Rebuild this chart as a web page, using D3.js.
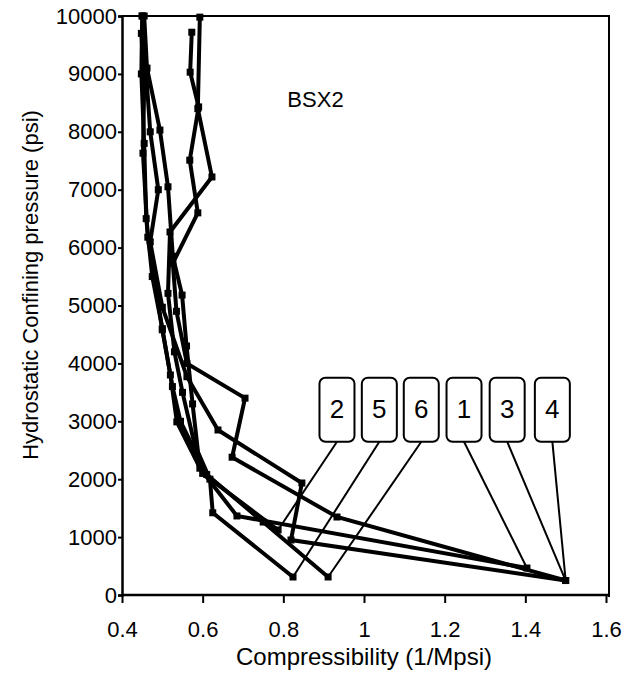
<!DOCTYPE html>
<html>
<head>
<meta charset="utf-8">
<script src="https://cdn.jsdelivr.net/npm/d3@7"></script>
<style>
  body { margin: 0; background: #fff; }
  text { font-family: "Liberation Sans", Arial, sans-serif; fill: #000; }
</style>
</head>
<body>
<div id="chart"></div>
<script>
// compressibility (1/Mpsi), pressure (psi) pairs per test
const curve1 = [[0.455, 10000], [0.462, 9100], [0.494, 8030], [0.514, 7050], [0.526, 5850], [0.549, 5180], [0.56, 4300], [0.575, 3300], [0.593, 2190], [0.685, 1365], [1.404, 466]];
const curve2 = [[0.448, 9700], [0.455, 8800], [0.452, 7630], [0.464, 6180], [0.48, 5500], [0.50, 4580], [0.52, 3800], [0.536, 2990], [0.60, 2100], [0.787, 1123]];
const curve3 = [[0.45, 10000], [0.46, 9000], [0.47, 8000], [0.49, 7000], [0.47, 6100], [0.50, 4970], [0.561, 3770], [0.638, 2850], [0.846, 1934], [0.819, 950], [1.5, 250]];
const curve4 = [[0.573, 9720], [0.569, 9030], [0.59, 8430], [0.568, 7510], [0.588, 6600], [0.526, 5730], [0.535, 4900], [0.561, 4000], [0.705, 3400], [0.673, 2380], [0.933, 1347], [1.5, 250]];
const curve5 = [[0.593, 9980], [0.588, 8400], [0.623, 7220], [0.519, 6270], [0.514, 5210], [0.53, 4200], [0.55, 3500], [0.58, 2600], [0.618, 2000], [0.625, 1420], [0.824, 311]];
const curve6 = [[0.45, 10000], [0.448, 9000], [0.455, 7800], [0.46, 6500], [0.475, 5500], [0.50, 4600], [0.525, 3600], [0.545, 3000], [0.61, 2080], [0.75, 1260], [0.911, 311]];
const curves = [curve1, curve2, curve3, curve4, curve5, curve6];

// callout labels: text, box centre (compressibility), point it marks
const calloutNames = ["2", "5", "6", "1", "3", "4"];
const calloutBoxX = [0.933, 1.038, 1.142, 1.248, 1.355, 1.467];
const calloutPoints = [[0.787, 1123], [0.824, 311], [0.911, 311], [1.404, 466], [1.5, 250], [1.5, 250]];

const xTicks = [0.4, 0.6, 0.8, 1, 1.2, 1.4, 1.6];
const yTicks = [0, 1000, 2000, 3000, 4000, 5000, 6000, 7000, 8000, 9000, 10000];

const width = 640, height = 675;
const svg = d3.select("#chart").append("svg")
    .attr("width", width)
    .attr("height", height);

const x = d3.scaleLinear().domain([0.4, 1.6]).range([122, 606]);
const y = d3.scaleLinear().domain([0, 10000]).range([595, 16]);

// frame (top + right)
svg.append("path")
    .attr("d", `M${x(0.4)},${y(10000)}H${x(1.6) + 3}V${y(0) + 2}`)
    .attr("fill", "none")
    .attr("stroke", "#000")
    .attr("stroke-width", 2);

// axes
const xAxis = svg.append("g")
    .attr("transform", `translate(0,${y(0)})`)
    .call(d3.axisBottom(x).tickValues(xTicks).tickFormat(d3.format("")).tickSize(8).tickPadding(18));
const yAxis = svg.append("g")
    .attr("transform", `translate(${x(0.4)},0)`)
    .call(d3.axisLeft(y).tickValues(yTicks).tickFormat(d3.format("d")).tickSize(4).tickPadding(1));

[xAxis, yAxis].forEach(g => {
    g.select(".domain").attr("stroke-width", 2.5);
    g.selectAll(".tick line").attr("stroke-width", 2);
    g.selectAll("text").style("font-size", "22px").attr("fill", "#000");
});
xAxis.select(".domain").attr("d", `M${x(0.4)},0H${x(1.6) + 3}`);

// data lines
const line = d3.line().x(d => x(d[0])).y(d => y(d[1]));
svg.selectAll(".curve")
    .data(curves)
    .join("path")
    .attr("class", "curve")
    .attr("d", line)
    .attr("fill", "none")
    .attr("stroke", "#000")
    .attr("stroke-width", 4)
    .attr("stroke-linejoin", "miter");

// square markers
svg.selectAll(".mark")
    .data(curves.flat())
    .join("rect")
    .attr("class", "mark")
    .attr("x", d => x(d[0]) - 3.5)
    .attr("y", d => y(d[1]) - 3.5)
    .attr("width", 7)
    .attr("height", 7)
    .attr("fill", "#000");

// callouts
const boxW = 35, boxH = 64, boxMid = y(3200);
const callouts = calloutNames.map((name, i) => ({ name, bx: calloutBoxX[i], pt: calloutPoints[i] }));

svg.selectAll(".leader")
    .data(callouts)
    .join("line")
    .attr("class", "leader")
    .attr("x1", d => x(d.bx))
    .attr("y1", boxMid + boxH / 2)
    .attr("x2", d => x(d.pt[0]))
    .attr("y2", d => y(d.pt[1]))
    .attr("stroke", "#000")
    .attr("stroke-width", 2);

const boxes = svg.selectAll(".callout")
    .data(callouts)
    .join("g")
    .attr("class", "callout")
    .attr("transform", d => `translate(${x(d.bx)},${boxMid})`);

boxes.append("rect")
    .attr("x", -boxW / 2)
    .attr("y", -boxH / 2)
    .attr("width", boxW)
    .attr("height", boxH)
    .attr("rx", 6)
    .attr("fill", "#fff")
    .attr("stroke", "#000")
    .attr("stroke-width", 2);

boxes.append("text")
    .attr("text-anchor", "middle")
    .attr("dy", "0.3em")
    .style("font-size", "26px")
    .text(d => d.name);

// sample name
svg.append("text")
    .attr("x", x(0.81))
    .attr("y", y(8430))
    .style("font-size", "22px")
    .text("BSX2");

// axis titles
svg.append("text")
    .attr("x", (x(0.4) + x(1.6)) / 2)
    .attr("y", 665)
    .attr("text-anchor", "middle")
    .style("font-size", "24px")
    .text("Compressibility (1/Mpsi)");

svg.append("text")
    .attr("transform", "translate(38,285) rotate(-90)")
    .attr("text-anchor", "middle")
    .style("font-size", "22px")
    .text("Hydrostatic Confining pressure (psi)");
</script>
</body>
</html>
